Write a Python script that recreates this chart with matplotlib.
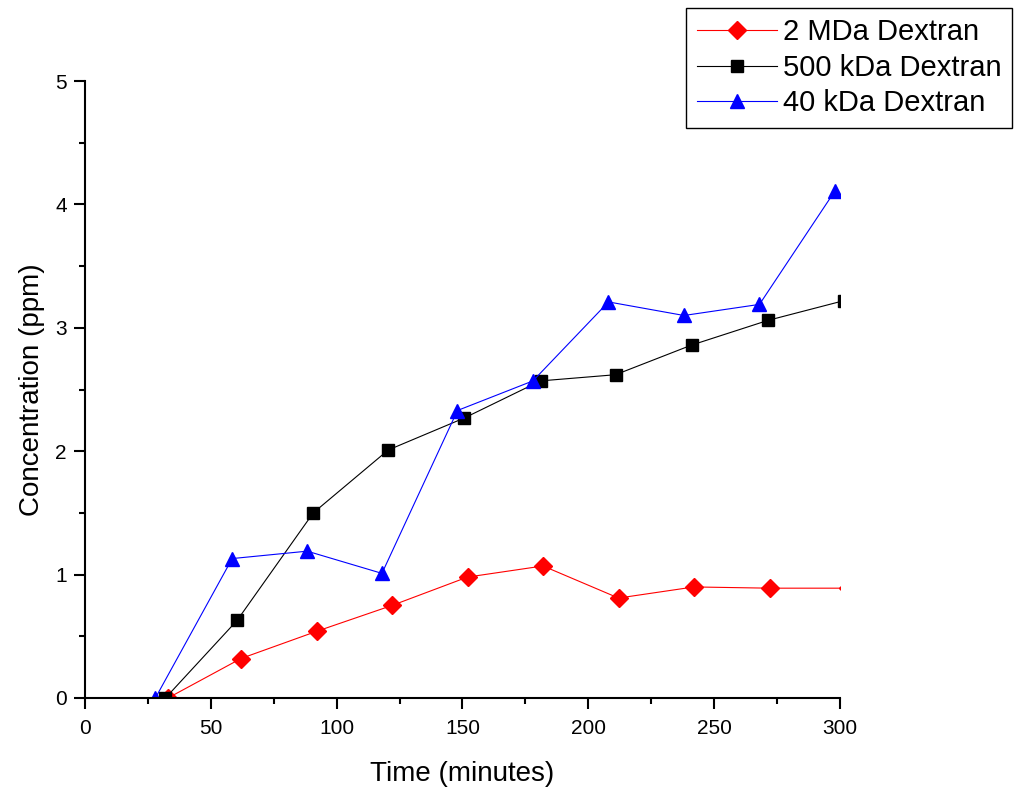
import matplotlib
matplotlib.use('Agg')
import matplotlib.pyplot as plt
from matplotlib.ticker import MultipleLocator

plt.rcParams['font.family'] = ['Liberation Sans', 'DejaVu Sans']

# values
t_2mda = [33, 62, 92, 122, 152, 182, 212, 242, 272, 303]
c_2mda = [0.0, 0.32, 0.54, 0.75, 0.98, 1.07, 0.81, 0.90, 0.89, 0.89]

t_500k = [32, 60.5, 90.7, 120.5, 150.8, 181, 210.8, 241, 271.3, 301.5]
c_500k = [0.0, 0.63, 1.50, 2.01, 2.27, 2.57, 2.62, 2.86, 3.06, 3.22]

t_40k = [28, 58.5, 88.3, 118, 148, 178, 208, 238, 268, 298]
c_40k = [0.0, 1.13, 1.19, 1.01, 2.33, 2.57, 3.21, 3.10, 3.19, 4.11]

fig = plt.figure(figsize=(10.15, 7.87), dpi=100)
ax = fig.add_axes([0.0837, 0.1131, 0.7439, 0.7839])

ax.plot(t_2mda, c_2mda, color='red', lw=0.8, marker='D', ms=9.5,
        mec='red', mfc='red', label='2 MDa Dextran')
ax.plot(t_500k, c_500k, color='black', lw=0.8, marker='s', ms=8.2,
        mec='black', mfc='black', label='500 kDa Dextran')
ax.plot(t_40k, c_40k, color='blue', lw=0.8, marker='^', ms=10,
        mec='blue', mfc='blue', label='40 kDa Dextran')

ax.set_xlim(0, 300)
ax.set_ylim(0, 5)
ax.xaxis.set_major_locator(MultipleLocator(50))
ax.xaxis.set_minor_locator(MultipleLocator(25))
ax.yaxis.set_major_locator(MultipleLocator(1))
ax.yaxis.set_minor_locator(MultipleLocator(0.5))

ax.spines['top'].set_visible(False)
ax.spines['right'].set_visible(False)
ax.spines['left'].set_linewidth(1.5)
ax.spines['bottom'].set_linewidth(1.5)
ax.tick_params(which='major', direction='out', length=8, width=1.5, labelsize=15)
ax.tick_params(axis='x', which='major', pad=7)
ax.tick_params(axis='y', which='major', pad=5)
ax.tick_params(which='minor', direction='out', length=4.5, width=1.5)

ax.set_xlabel('Time (minutes)', fontsize=20, labelpad=17)
ax.set_ylabel('Concentration (ppm)', fontsize=20, labelpad=7)

leg = fig.legend(loc='upper right', bbox_to_anchor=(1012 / 1015, 1 - 8 / 787),
                 fontsize=21, frameon=True, fancybox=False, framealpha=1,
                 edgecolor='black', handlelength=2.75, handletextpad=0.2,
                 labelspacing=0.25, borderpad=0.36, borderaxespad=0)
leg.get_frame().set_linewidth(1.0)

fig.savefig('out.png', dpi=100)
